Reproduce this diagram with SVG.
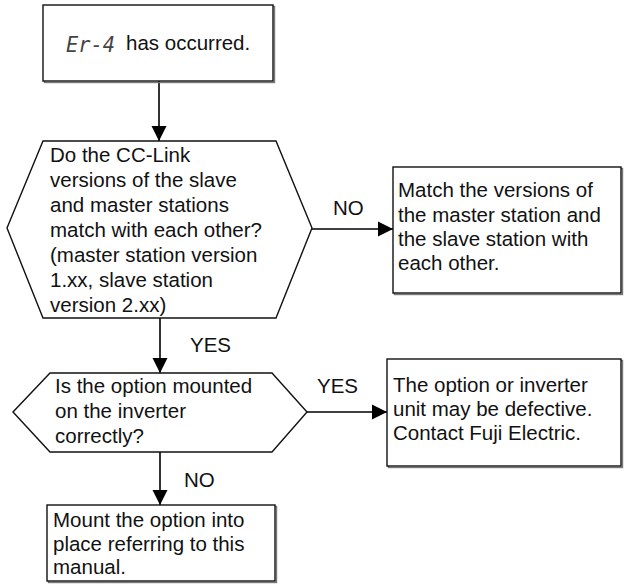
<svg xmlns="http://www.w3.org/2000/svg" width="624" height="585" viewBox="0 0 624 585">
<style>
text{font-family:"Liberation Sans",Arial,sans-serif;font-size:20.5px;fill:#111}
.seg{font-family:"DejaVu Sans Mono",monospace;font-style:italic;font-weight:200;font-size:21px;fill:#444}
.box{fill:#fff;stroke:#111;stroke-width:1.4}
.sh{fill:none;stroke:#777;stroke-width:1.4}
.hex{fill:#fff;stroke:#111;stroke-width:1.4}
.con line{stroke:#000;stroke-width:1.6;marker-end:url(#ah)}
</style>
<defs>
<marker id="ah" markerUnits="userSpaceOnUse" markerWidth="16" markerHeight="16" viewBox="0 0 16 16" refX="15" refY="8" orient="auto">
<path d="M0,0.5 L15,8 L0,15.5 z" fill="#000"/>
</marker>
</defs>
<rect width="624" height="585" fill="#fff"/>
<g class="con">
<line x1="159" y1="81" x2="159" y2="141"/>
<line x1="312" y1="229" x2="393" y2="229"/>
<line x1="160" y1="318" x2="160" y2="373"/>
<line x1="307" y1="412" x2="387" y2="412"/>
<line x1="160" y1="452" x2="160" y2="505"/>
</g>
<g id="start">
<rect class="sh" x="44.5" y="6.5" width="230" height="76"/>
<rect class="box" x="43" y="5" width="230" height="76"/>
<text class="seg" x="66" y="52" textLength="49" lengthAdjust="spacingAndGlyphs">Er-4</text>
<text x="126" y="50">has occurred.</text>
</g>
<g id="q1">
<polygon class="hex" points="7,228 43,141 276,141 312,228 276,318 43,318"/>
<text x="50"><tspan x="50" y="162">Do the CC-Link</tspan><tspan x="50" y="187">versions of the slave</tspan><tspan x="50" y="212">and master stations</tspan><tspan x="50" y="237">match with each other?</tspan><tspan x="50" y="262">(master station version</tspan><tspan x="50" y="287">1.xx, slave station</tspan><tspan x="50" y="312">version 2.xx)</tspan></text>
</g>
<g id="a1">
<rect class="sh" x="394.5" y="168.5" width="228" height="126"/>
<rect class="box" x="393" y="167" width="228" height="126"/>
<text><tspan x="398" y="197">Match the versions of</tspan><tspan x="398" y="222">the master station and</tspan><tspan x="398" y="246">the slave station with</tspan><tspan x="398" y="270">each other.</tspan></text>
</g>
<g id="q2">
<polygon class="hex" points="13,412 50,373 272,373 307,412 272,452 50,452"/>
<text><tspan x="55" y="393">Is the option mounted</tspan><tspan x="55" y="418">on the inverter</tspan><tspan x="55" y="443">correctly?</tspan></text>
</g>
<g id="a2">
<rect class="sh" x="388.5" y="360.5" width="234" height="107"/>
<rect class="box" x="387" y="359" width="234" height="107"/>
<text><tspan x="393" y="392">The option or inverter</tspan><tspan x="393" y="416">unit may be defective.</tspan><tspan x="393" y="440">Contact Fuji Electric.</tspan></text>
</g>
<g id="a3">
<rect class="sh" x="48.5" y="506.5" width="228" height="76"/>
<rect class="box" x="47" y="505" width="228" height="76"/>
<text><tspan x="53" y="527">Mount the option into</tspan><tspan x="53" y="551">place referring to this</tspan><tspan x="53" y="574">manual.</tspan></text>
</g>
<g id="labels">
<text x="333" y="215">NO</text>
<text x="190" y="352">YES</text>
<text x="317" y="393">YES</text>
<text x="184" y="487">NO</text>
</g>
</svg>
